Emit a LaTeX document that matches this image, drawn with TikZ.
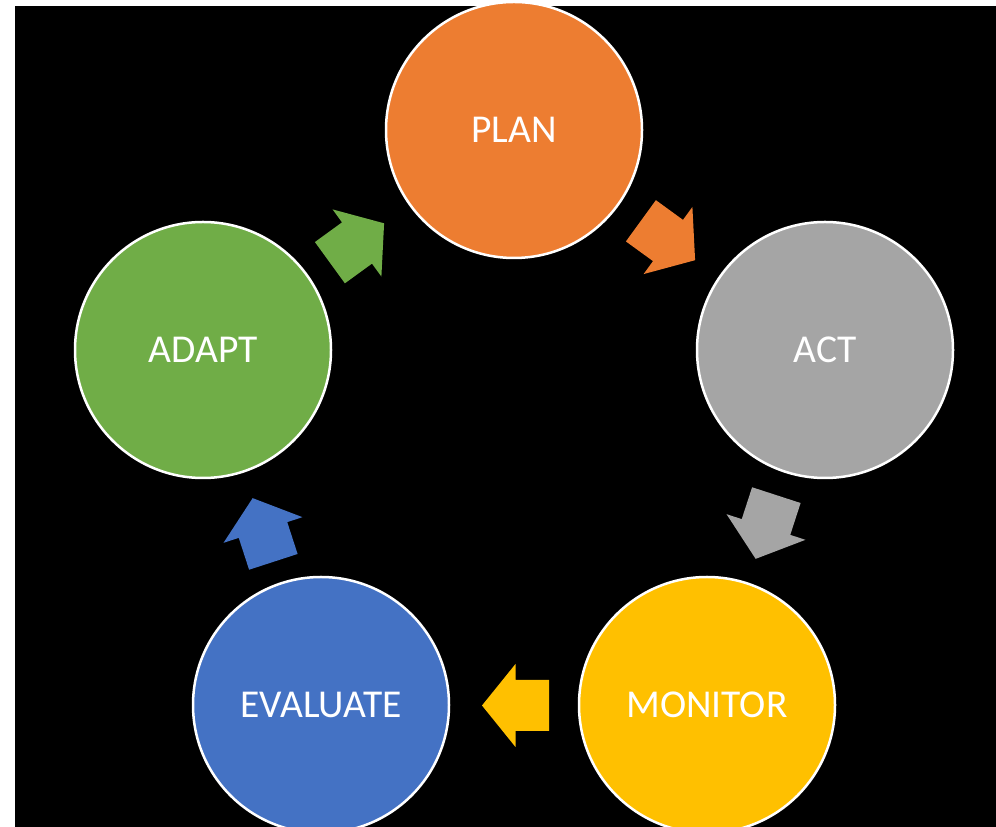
\documentclass[tikz,border=0pt]{standalone}
\usepackage{fontspec}
\setmainfont{Carlito}
\definecolor{cplan}{HTML}{ED7D31}
\definecolor{cact}{HTML}{A5A5A5}
\definecolor{cmon}{HTML}{FFC000}
\definecolor{ceval}{HTML}{4472C4}
\definecolor{cadapt}{HTML}{70AD47}
\tikzset{
  stage/.style={circle, draw=white, line width=2.5pt, minimum size=256pt, inner sep=0pt,
    text=white, font=\fontsize{39.5}{44}\selectfont},
}
\newcommand{\blockarr}[4]{%
  \begin{scope}[shift={(#1,#2)}, rotate=#3]
    \fill[#4] (-33.5,-25.5) -- (0,-25.5) -- (0,-41.5) -- (33.5,0) -- (0,41.5) -- (0,25.5) -- (-33.5,25.5) -- cycle;
  \end{scope}}
\begin{document}
\begin{tikzpicture}[x=1pt,y=1pt]
\useasboundingbox (0,0) rectangle (996,827);
\clip (0,0) rectangle (996,827);
\fill[white] (0,0) rectangle (996,827);
\fill[black] (15,0) rectangle (996,821);
\node[stage, fill=cplan] (plan) at (514,697) {PLAN};
\node[stage, fill=cact] (act) at (825,477) {ACT};
\node[stage, fill=cmon] (monitor) at (707,122) {MONITOR};
\node[stage, fill=ceval] (evaluate) at (321,122) {EVALUATE};
\node[stage, fill=cadapt] (adapt) at (203,477) {ADAPT};
\blockarr{668}{586.5}{-36}{cplan}
\blockarr{766}{300}{-108}{cact}
\blockarr{515.5}{121.5}{180}{cmon}
\blockarr{263}{297}{108}{ceval}
\blockarr{357}{584}{36}{cadapt}
\end{tikzpicture}
\end{document}
